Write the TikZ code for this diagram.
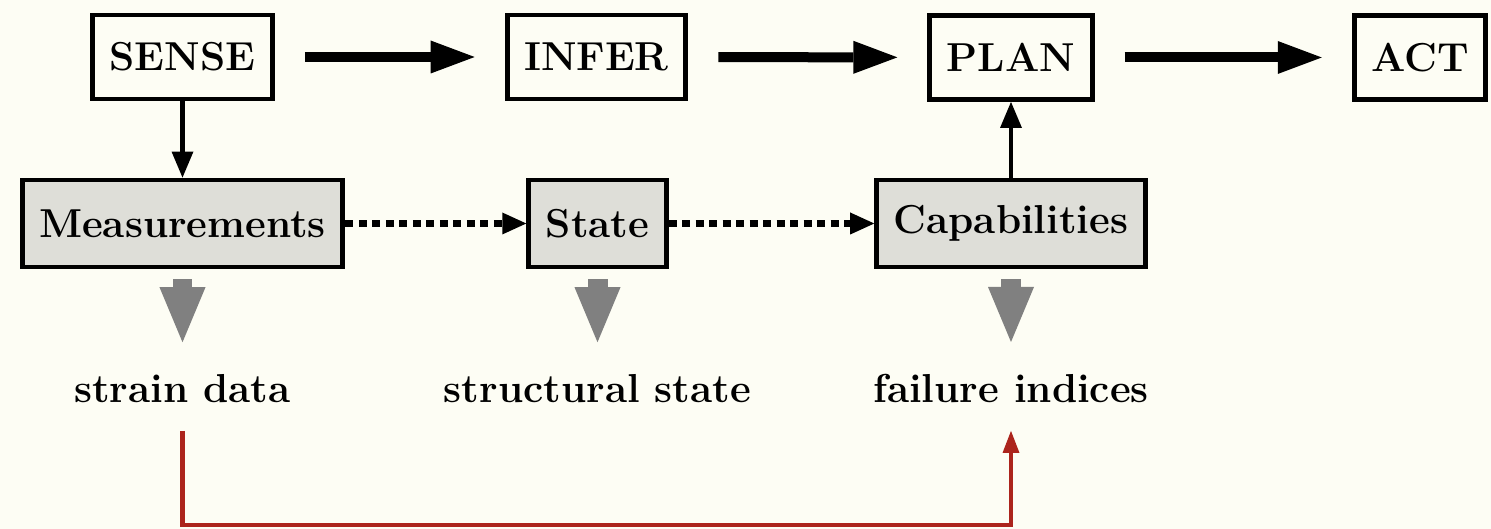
\documentclass[tikz,border=0pt]{standalone}
\usepackage{xcolor}
\usepackage{tikz}
\usetikzlibrary{arrows.meta, positioning}

\definecolor{paper}{RGB}{253,253,244}
\definecolor{boxgray}{RGB}{222,222,216}
\definecolor{linkred}{RGB}{172,36,28}

\begin{document}
\begin{tikzpicture}[
	font=\fontsize{11.5}{14}\selectfont\bfseries,
	stage/.style={draw, line width=1.4pt, minimum height=0.84cm, inner xsep=0.17cm, anchor=center},
	quantity/.style={stage, fill=boxgray, minimum height=0.87cm},
	output/.style={inner sep=0pt, anchor=base},
	flow/.style={-{Triangle[length=0.44cm,width=0.33cm,line width=0pt]}, line width=0.1cm, shorten <=0.3cm, shorten >=0.3cm},
	feed/.style={-{Triangle[length=0.26cm,width=0.22cm,line width=0pt]}, line width=1.4pt},
	pass/.style={-{Triangle[length=0.24cm,width=0.22cm,line width=0pt]}, line width=2pt, dash pattern=on 0.08cm off 0.055cm},
	yield/.style={-{Triangle[length=0.55cm,width=0.46cm,line width=0pt]}, gray, line width=0.2cm, shorten <=0.1cm, shorten >=0.32cm},
	backlink/.style={-{Triangle[length=0.22cm,width=0.17cm,line width=0pt]}, linkred, line width=1.4pt, shorten <=0.27cm, shorten >=0.27cm}
	]
			\fill[paper] (0,0) rectangle (14.91,-5.29);
			\useasboundingbox (0,0) rectangle (14.91,-5.29);
			% top row
			\node[stage] (sense) at (1.825,-0.57) {SENSE};
			\node[stage] (infer) at (5.965,-0.57) {INFER};
			\node[stage] (plan) at (10.11,-0.575) {PLAN};
			\node[stage] (act) at (14.2,-0.575) {ACT};
			% quantities
			\node[quantity] (meas) at (1.825,-2.235) {Measurements};
			\node[quantity] (state) at (5.975,-2.235) {State};
			\node[quantity] (capab) at (10.11,-2.235) {Capabilities};
			% outputs
			\node[output] (strain) at (1.825,-4.03) {strain data};
			\node[output] (structural) at (5.975,-4.03) {structural state};
			\node[output] (failure) at (10.11,-4.03) {failure indices};
			\coordinate (turn) at (5.975,-5.25);

			\draw[flow] (sense) -- (infer);
			\draw[flow] (infer) -- (plan);
			\draw[flow] (plan) -- (act);
			\draw[feed] (sense) -- (meas);
			\draw[feed] (capab) -- (plan);
			\draw[pass] (meas) -- (state);
			\draw[pass] (state) -- (capab);
			\draw[yield] (meas) -- (strain);
			\draw[yield] (state) -- (structural);
			\draw[yield] (capab) -- (failure);
			\draw[backlink] (strain) |- (turn) -| (failure);
		\end{tikzpicture}
\end{document}
